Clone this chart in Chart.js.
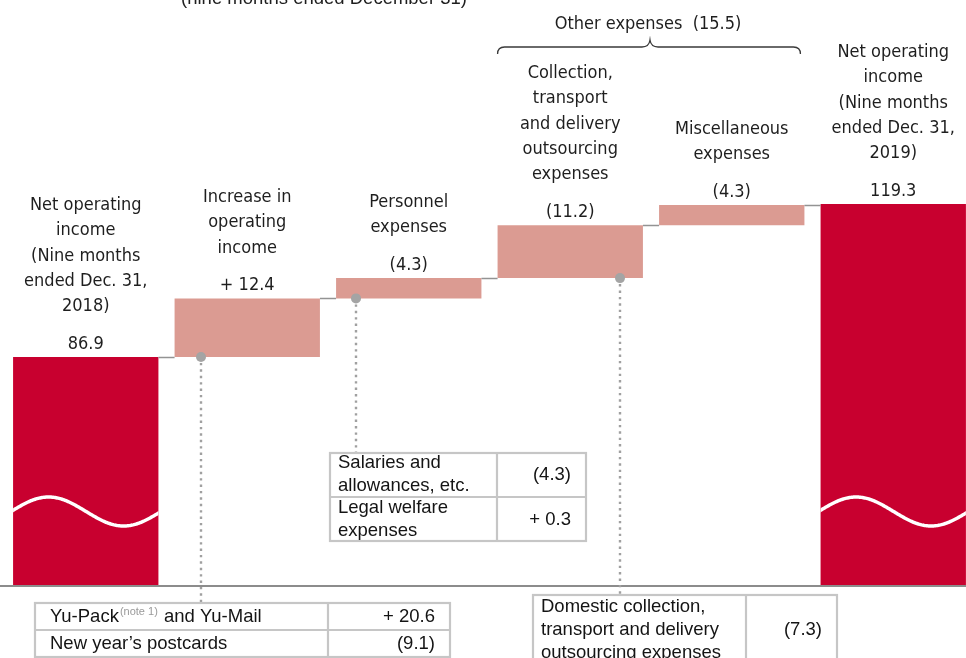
<!DOCTYPE html>
<html>
<head>
<meta charset="utf-8">
<script src="https://cdn.jsdelivr.net/npm/chart.js@4.4.0/dist/chart.umd.min.js"></script>
<style>
  html, body { margin: 0; padding: 0; background: #fff; overflow: hidden; width: 966px; height: 658px; }
  canvas { display: block; }
</style>
</head>
<body>
<canvas id="c" width="976" height="658"></canvas>
<script>
// ---------------- DATA ----------------
const categories = [
  'Net operating income (Nine months ended Dec. 31, 2018)',
  'Increase in operating income',
  'Personnel expenses',
  'Collection, transport and delivery outsourcing expenses',
  'Miscellaneous expenses',
  'Net operating income (Nine months ended Dec. 31, 2019)'
];
const labelLines = [
  ['Net operating', 'income', '(Nine months', 'ended Dec. 31,', '2018)'],
  ['Increase in', 'operating', 'income'],
  ['Personnel', 'expenses'],
  ['Collection,', 'transport', 'and delivery', 'outsourcing', 'expenses'],
  ['Miscellaneous', 'expenses'],
  ['Net operating', 'income', '(Nine months', 'ended Dec. 31,', '2019)']
];
const barKinds = ['total', 'change', 'change', 'change', 'change', 'total'];
const barValues = [86.9, 12.4, 4.3, 11.2, 4.3, 119.3];
const valueLabels = ['86.9', '+ 12.4', '(4.3)', '(11.2)', '(4.3)', '119.3'];
const titleText = '(nine months ended December 31)';
const braceText = 'Other expenses  (15.5)';
const tableIncomeRows = [
  ['Yu-Pack', '(note 1)', ' and Yu-Mail', '+ 20.6'],
  ['New year\u2019s postcards', '', '', '(9.1)']
];
const tablePersonnelRows = [
  [['Salaries and', 'allowances, etc.'], '(4.3)'],
  [['Legal welfare', 'expenses'], '+ 0.3']
];
const tableOutsourcingRows = [
  [['Domestic collection,', 'transport and delivery', 'outsourcing expenses'], '(7.3)']
];

// ---------------- BUILD ----------------
const AXIS_MIN = 38.6, AXIS_MAX = 162.5;
const RED = '#C8002F', PINK = '#DB9B92';
let run = 0;
const floating = [];
const endValues = [];
barValues.forEach((v, i) => {
  if (barKinds[i] === 'total') { floating.push([AXIS_MIN, v]); run = v; }
  else { floating.push([run, run + v]); run += v; }
  endValues.push(run);
});
const colors = barKinds.map(k => k === 'total' ? RED : PINK);

const LABEL_FONT = '18px "DejaVu Sans Condensed", "DejaVu Sans", sans-serif';
const TABLE_FONT = '18.5px "Liberation Sans", Arial, sans-serif';

function hline(ctx, x1, x2, y, color, w) {
  ctx.save(); ctx.strokeStyle = color; ctx.lineWidth = w;
  ctx.beginPath(); ctx.moveTo(x1, y); ctx.lineTo(x2, y); ctx.stroke(); ctx.restore();
}

const annot = {
  id: 'annot',
  afterDatasetsDraw(chart) {
    const ctx = chart.ctx;
    const meta = chart.getDatasetMeta(0);
    const ys = chart.scales.y;
    const bars = meta.data.map(b => {
      const p = b.getProps(['x', 'y', 'base', 'width'], true);
      return { l: p.x - p.width / 2, r: p.x + p.width / 2, x: p.x, top: Math.min(p.y, p.base), bot: Math.max(p.y, p.base) };
    });
    const bottom = ys.getPixelForValue(AXIS_MIN);

    // waves in the total bars
    bars.forEach((b, i) => {
      if (barKinds[i] !== 'total') return;
      ctx.save();
      ctx.beginPath(); ctx.rect(b.l, b.top, b.r - b.l, b.bot - b.top); ctx.clip();
      ctx.strokeStyle = '#ffffff'; ctx.lineWidth = 3.5;
      ctx.beginPath();
      const w = b.r - b.l;
      for (let t = -4; t <= w + 4; t += 1) {
        const y = bottom - 73.5 - 14.5 * Math.sin(2 * Math.PI * (t + 2) / 150);
        if (t === -4) ctx.moveTo(b.l + t, y); else ctx.lineTo(b.l + t, y);
      }
      ctx.stroke();
      ctx.restore();
    });

    // connectors
    for (let i = 0; i < bars.length - 1; i++) {
      const y = Math.round(ys.getPixelForValue(endValues[i])) + 0.5;
      hline(ctx, bars[i].r, bars[i + 1].l, y, '#939393', 1.5);
    }

    // axis line
    hline(ctx, 0, chart.width, bottom + 1, '#8c8c8c', 2);

    // labels
    ctx.save();
    ctx.fillStyle = '#1e1e1e';
    ctx.font = LABEL_FONT;
    ctx.textAlign = 'center';
    ctx.textBaseline = 'middle';
    bars.forEach((b, i) => {
      const vy = b.top - 13;
      ctx.fillText(valueLabels[i], b.x, vy);
      const lines = labelLines[i];
      lines.forEach((ln, j) => {
        ctx.fillText(ln, b.x, vy - 37.5 - (lines.length - 1 - j) * 25.3);
      });
    });
    // brace
    const bl = bars[3].l, br = bars[4].r - 4, bm = (bl + br) / 2 + 1;
    ctx.fillText(braceText, bm - 2, 24);
    ctx.strokeStyle = '#3a3a3a'; ctx.lineWidth = 1.3;
    ctx.beginPath();
    ctx.moveTo(bl, 54);
    ctx.quadraticCurveTo(bl, 47, bl + 7, 47);
    ctx.lineTo(bm - 8, 47);
    ctx.quadraticCurveTo(bm - 1, 47, bm, 40);
    ctx.quadraticCurveTo(bm + 1, 47, bm + 8, 47);
    ctx.lineTo(br - 7, 47);
    ctx.quadraticCurveTo(br, 47, br, 54);
    ctx.stroke();
    ctx.restore();

    // title (cut at top)
    ctx.save();
    ctx.fillStyle = '#1e1e1e';
    ctx.font = TABLE_FONT;
    ctx.textAlign = 'center';
    ctx.textBaseline = 'alphabetic';
    ctx.fillText(titleText, 324, 4);
    ctx.restore();

    // dotted leader lines + dots
    const leaders = [
      { bar: 1, dx: 26, to: 603 },
      { bar: 2, dx: 20, to: 453 },
      { bar: 3, dx: 122, to: 595 }
    ];
    leaders.forEach(ld => {
      const b = bars[ld.bar];
      const x = Math.round(b.l + ld.dx), y = b.bot;
      ctx.save();
      ctx.strokeStyle = '#a0a0a0'; ctx.lineWidth = 2.4; ctx.setLineDash([2.4, 4]);
      ctx.beginPath(); ctx.moveTo(x, y + 6); ctx.lineTo(x, ld.to); ctx.stroke();
      ctx.setLineDash([]);
      ctx.fillStyle = '#a4a4a4';
      ctx.beginPath(); ctx.arc(x, y, 5, 0, Math.PI * 2); ctx.fill();
      ctx.restore();
    });

    // tables
    function box(x, y, w, h, colX, rowYs) {
      ctx.save();
      ctx.fillStyle = '#ffffff'; ctx.fillRect(x, y, w, h);
      ctx.strokeStyle = '#c6c6c6'; ctx.lineWidth = 2.2;
      ctx.strokeRect(x, y, w, h);
      ctx.beginPath(); ctx.moveTo(colX, y); ctx.lineTo(colX, y + h);
      rowYs.forEach(ry => { ctx.moveTo(x, ry); ctx.lineTo(x + w, ry); });
      ctx.stroke();
      ctx.restore();
    }
    ctx.save();
    ctx.fillStyle = '#141414';
    ctx.textBaseline = 'middle';

    // table 1
    box(35, 603, 415, 54, 328, [630]);
    ctx.font = TABLE_FONT; ctx.textAlign = 'left';
    const x0 = 50;
    const r0 = tableIncomeRows[0];
    ctx.fillText(r0[0], x0, 617);
    const w0 = ctx.measureText(r0[0]).width;
    ctx.save(); ctx.font = '11px "Liberation Sans", Arial, sans-serif'; ctx.fillStyle = '#9a9a9a';
    ctx.fillText(r0[1], x0 + w0 + 1, 612);
    const ws = ctx.measureText(r0[1]).width; ctx.restore();
    ctx.fillText(r0[2], x0 + w0 + ws + 2, 617);
    ctx.textAlign = 'right';
    ctx.fillText(r0[3], 435, 617);
    ctx.textAlign = 'left';
    ctx.fillText(tableIncomeRows[1][0], x0, 644);
    ctx.textAlign = 'right';
    ctx.fillText(tableIncomeRows[1][3], 435, 644);

    // table 2
    box(330, 453, 256, 88, 497, [497]);
    tablePersonnelRows.forEach((row, i) => {
      const top = i === 0 ? 463 : 508;
      ctx.textAlign = 'left';
      row[0].forEach((ln, j) => ctx.fillText(ln, 338, top + j * 23));
      ctx.textAlign = 'right';
      ctx.fillText(row[1], 571, top + 11.5);
    });

    // table 3
    box(533, 595, 304, 90, 746, []);
    tableOutsourcingRows.forEach(row => {
      ctx.textAlign = 'left';
      row[0].forEach((ln, j) => ctx.fillText(ln, 541, 607 + j * 23));
      ctx.textAlign = 'right';
      ctx.fillText(row[1], 822, 630);
    });
    ctx.restore();
  }
};

new Chart(document.getElementById('c'), {
  type: 'bar',
  data: {
    labels: categories,
    datasets: [{
      data: floating,
      backgroundColor: colors,
      borderWidth: 0,
      barPercentage: 0.9,
      categoryPercentage: 1.0
    }]
  },
  options: {
    responsive: false,
    animation: false,
    devicePixelRatio: 1,
    layout: { padding: { left: 5, right: 2, top: 0, bottom: 73 } },
    plugins: { legend: { display: false }, tooltip: { enabled: false }, title: { display: false } },
    scales: {
      x: { display: false },
      y: { display: false, min: AXIS_MIN, max: AXIS_MAX }
    }
  },
  plugins: [annot]
});
</script>
</body>
</html>
